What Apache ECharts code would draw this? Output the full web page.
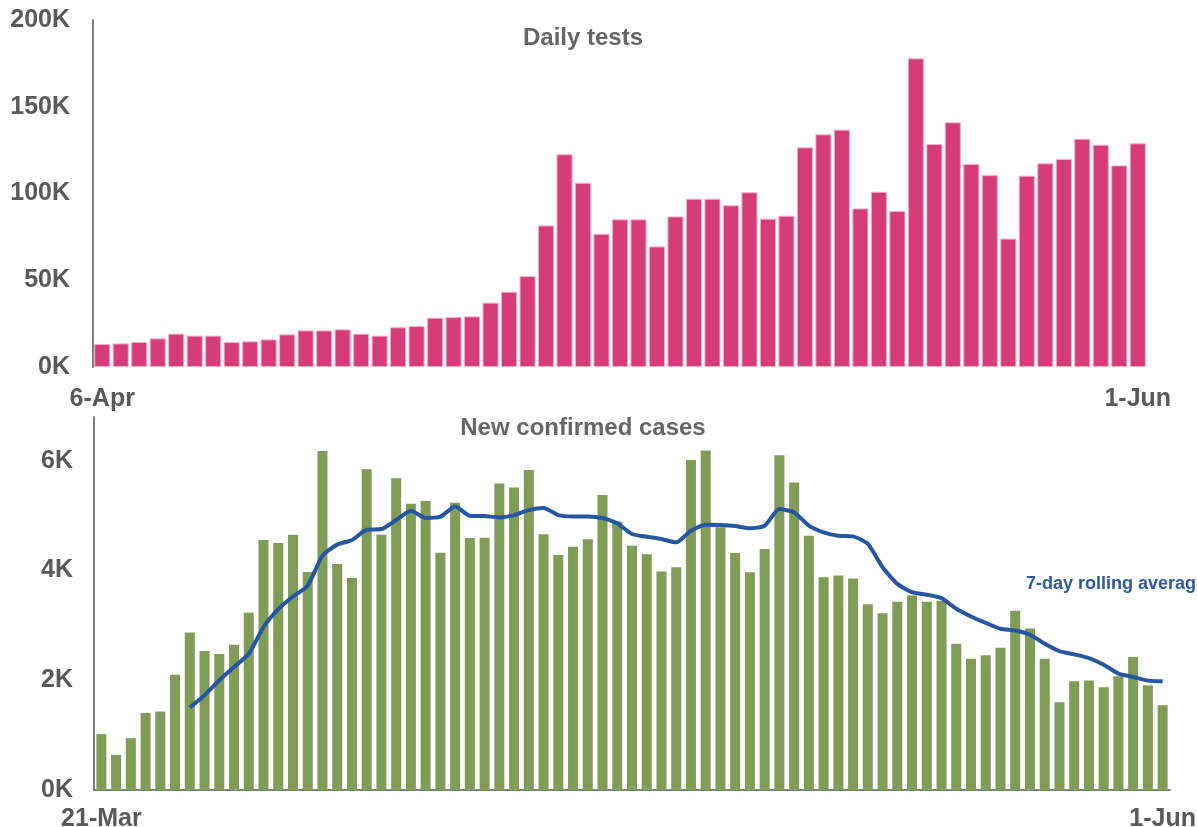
<!DOCTYPE html>
<html lang="en">
<head>
    <meta charset="UTF-8">
    <title>Daily tests and new confirmed cases</title>
    <style>
        html, body { margin: 0; padding: 0; background: #fff; }
        #main { width: 1197px; height: 827px; }
    </style>
</head>
<body>
    <div id="main"></div>

    <script src="https://cdn.jsdelivr.net/npm/echarts@6/dist/echarts.min.js"></script>
    <script>
        // daily tests, 6-Apr .. 1-Jun
        var testValues = [13300, 13600, 14400, 16500, 19200, 18100, 18100, 14400, 14800, 15900,
            18800, 21100, 21100, 21700, 19200, 18100, 22900, 23600, 28400, 28800,
            29200, 37100, 43400, 52400, 81600, 122600, 106200, 76800, 85100, 85100,
            69500, 86800, 97000, 97000, 93200, 100700, 85500, 87200, 126600, 134100,
            136800, 91400, 101000, 89900, 177900, 128500, 141000, 117000, 110600, 74000,
            110300, 117400, 119900, 131600, 128100, 116200, 128900];

        // new confirmed cases, 21-Mar .. 1-Jun
        var caseValues = [1018, 642, 945, 1406, 1430, 2103, 2873, 2533, 2479, 2648,
            3230, 4557, 4503, 4654, 3975, 6182, 4121, 3867, 5848, 4654,
            5685, 5218, 5267, 4327, 5236, 4594, 4600, 5588, 5515, 5836,
            4661, 4285, 4436, 4570, 5376, 4897, 4455, 4297, 3982, 4061,
            6018, 6188, 4790, 4321, 3970, 4394, 6103, 5606, 4636, 3879,
            3909, 3855, 3388, 3224, 3430, 3545, 3430, 3450, 2667, 2394,
            2455, 2594, 3267, 2945, 2394, 1600, 1982, 1994, 1873, 2073,
            2424, 1909, 1545];

        // 7-day rolling average as drawn (starts on the 7th day)
        var avgValues = [null, null, null, null, null, null,
            1503, 1727, 2000, 2242, 2485, 2970, 3297, 3527, 3727, 4273,
            4473, 4557, 4745, 4757, 4921, 5091, 4958, 4982, 5170, 5000,
            4994, 4970, 5012, 5103, 5139, 5012, 4988, 4988, 4958, 4861,
            4667, 4618, 4576, 4515, 4727, 4836, 4830, 4812, 4770, 4818,
            5121, 5061, 4820, 4697, 4636, 4624, 4485, 4061, 3758, 3606,
            3558, 3497, 3303, 3164, 3048, 2939, 2909, 2830, 2667, 2533,
            2473, 2406, 2285, 2121, 2061, 1994, 1982];

        var monthNames = ['Jan', 'Feb', 'Mar', 'Apr', 'May', 'Jun', 'Jul'];

        function dayLabels(year, month, day, count) {
            var out = [];
            for (var i = 0; i < count; i++) {
                var d = new Date(year, month, day + i);
                out.push(d.getDate() + '-' + monthNames[d.getMonth()]);
            }
            return out;
        }

        var testDays = dayLabels(2020, 3, 6, testValues.length);
        var caseDays = dayLabels(2020, 2, 21, caseValues.length);

        var font = '"Liberation Sans", Arial, sans-serif';
        var labelGray = '#595959';

        function kFormat(v) {
            return (v / 1000) + 'K';
        }

        // only first and last day get a label
        function endsOnly(count) {
            return function (i) { return i === 0 || i === count - 1; };
        }

        var chart = echarts.init(document.getElementById('main'));

        var option = {
            animation: false,
            textStyle: { fontFamily: font },
            title: [
                {
                    text: 'Daily tests',
                    left: 578, top: 21, textAlign: 'center',
                    textStyle: { color: '#666666', fontSize: 24, fontWeight: 'bold', fontFamily: font }
                },
                {
                    text: 'New confirmed cases',
                    left: 578, top: 411, textAlign: 'center',
                    textStyle: { color: '#666666', fontSize: 24, fontWeight: 'bold', fontFamily: font }
                },
                {
                    text: '7-day rolling average',
                    left: 1021, top: 570,
                    textStyle: { color: '#2B59A3', fontSize: 18, fontWeight: 'bold', fontFamily: font }
                }
            ],
            grid: [
                { left: 93, right: 50, top: 20, bottom: 460, outerBoundsMode: 'none' },
                { left: 94, right: 27, top: 417, bottom: 37, outerBoundsMode: 'none' }
            ],
            xAxis: [
                {
                    type: 'category', gridIndex: 0, data: testDays,
                    axisLine: { show: false },
                    axisTick: { show: false },
                    axisLabel: {
                        interval: endsOnly(testDays.length),
                        showMinLabel: true, showMaxLabel: true, hideOverlap: false,
                        margin: 20,
                        color: labelGray, fontSize: 25, fontWeight: 'bold', fontFamily: font
                    }
                },
                {
                    type: 'category', gridIndex: 1, data: caseDays,
                    axisLine: { show: true, lineStyle: { color: '#7f7f7f', width: 2 } },
                    axisTick: { show: false },
                    axisLabel: {
                        interval: endsOnly(caseDays.length),
                        showMinLabel: true, showMaxLabel: true, hideOverlap: false,
                        margin: 17,
                        color: labelGray, fontSize: 25, fontWeight: 'bold', fontFamily: font
                    }
                }
            ],
            yAxis: [
                {
                    type: 'value', gridIndex: 0, min: 0, max: 200000, interval: 50000,
                    splitLine: { show: false },
                    axisLine: { show: true, lineStyle: { color: '#7f7f7f', width: 2 } },
                    axisLabel: {
                        formatter: kFormat, margin: 23,
                        color: labelGray, fontSize: 25, fontWeight: 'bold', fontFamily: font
                    }
                },
                {
                    type: 'value', gridIndex: 1, min: 0, max: 6800, interval: 2000,
                    splitLine: { show: false },
                    axisLine: { show: true, lineStyle: { color: '#7f7f7f', width: 2 } },
                    axisLabel: {
                        showMaxLabel: false,
                        formatter: function (v) { return v % 2000 === 0 ? kFormat(v) : ''; },
                        margin: 21,
                        color: labelGray, fontSize: 25, fontWeight: 'bold', fontFamily: font
                    }
                }
            ],
            series: [
                {
                    name: 'Daily tests', type: 'bar',
                    xAxisIndex: 0, yAxisIndex: 0,
                    data: testValues,
                    barCategoryGap: '13%',
                    itemStyle: { color: '#D63C7A', borderColor: '#F2AFCA', borderWidth: 1 }
                },
                {
                    name: 'New confirmed cases', type: 'bar',
                    xAxisIndex: 1, yAxisIndex: 1,
                    data: caseValues,
                    barCategoryGap: '32%',
                    itemStyle: { color: '#809D57' }
                },
                {
                    name: '7-day rolling average', type: 'line',
                    xAxisIndex: 1, yAxisIndex: 1,
                    data: avgValues,
                    smooth: 0.2,
                    symbol: 'none',
                    lineStyle: { color: '#2456A4', width: 4 }
                }
            ]
        };

        option && chart.setOption(option);
    </script>
</body>
</html>
